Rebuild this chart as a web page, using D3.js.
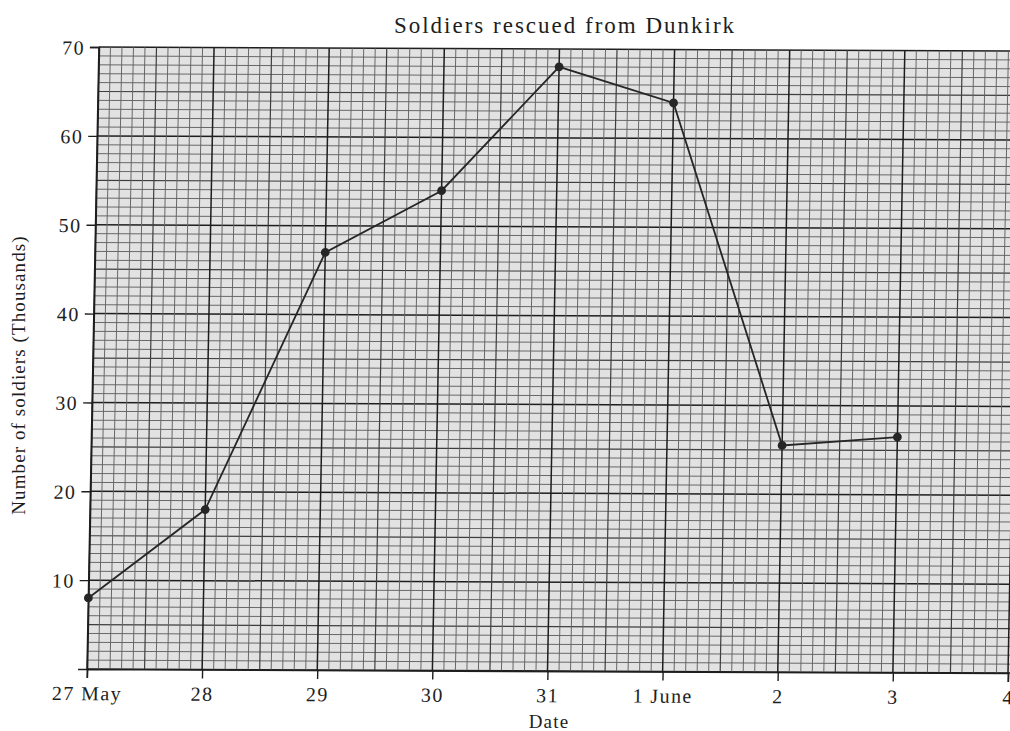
<!DOCTYPE html>
<html lang="en">
<head>
<meta charset="UTF-8">
<title>Soldiers rescued from Dunkirk</title>
<script src="https://d3js.org/d3.v7.min.js"></script>
<style>
  body { margin: 0; background: #fff; }
  text { font-family: "Liberation Serif", "Times New Roman", serif; fill: #1e1e1e; }
</style>
</head>
<body>
<svg id="chart" width="1010" height="731"></svg>
<script>
// data
const dates = ["27 May", "28", "29", "30", "31", "1 June", "2", "3", "4"];
const soldiers = [8, 18, 47, 54, 68, 64, 25.5, 26.5]; // thousands
const yTicks = [10, 20, 30, 40, 50, 60, 70];

const width = 1010, height = 731;
const margin = {top: 47, right: 2, bottom: 62, left: 87};

const svg = d3.select("#chart");

const x = d3.scaleLinear()
    .domain([0, dates.length - 1])
    .range([margin.left, width - margin.right]);

const y = d3.scaleLinear()
    .domain([0, 70])
    .range([height - margin.bottom, margin.top]);

const x0 = x(0), y0 = y(0);
const xMax = 8.4; // paper runs off the right edge

// the scan is slightly skewed, so the whole sheet is too
const sheet = svg.append("g")
    .attr("transform", `translate(${x0},${y0}) skewY(0.25) skewX(-1.1) translate(${-x0},${-y0})`);

// paper
sheet.append("rect")
    .attr("x", x0).attr("y", y(70))
    .attr("width", x(xMax) - x0).attr("height", y0 - y(70))
    .attr("fill", "#e2e2e2");

// minor / medium / major grid
const vLines = d3.range(0, Math.round(xMax * 10) + 1).map(i => i / 10);
const hLines = d3.range(0, 71);

function weight(i, n) {
    if (i % n === 0) return {c: "#1e1e1e", w: 1.5};
    if (i % (n / 2) === 0) return {c: "#3e3e3e", w: 1.2};
    return {c: "#626262", w: 0.95};
}

sheet.append("g").selectAll("line")
    .data(hLines)
    .join("line")
    .attr("x1", x0).attr("x2", x(xMax))
    .attr("y1", d => y(d)).attr("y2", d => y(d))
    .attr("stroke", d => weight(d, 10).c)
    .attr("stroke-width", d => weight(d, 10).w);

sheet.append("g").selectAll("line")
    .data(vLines)
    .join("line")
    .attr("x1", d => x(d)).attr("x2", d => x(d))
    .attr("y1", y(70)).attr("y2", y0)
    .attr("stroke", (d, i) => weight(i, 10).c)
    .attr("stroke-width", (d, i) => weight(i, 10).w);

// axes
const xAxis = d3.axisBottom(x)
    .tickValues(d3.range(dates.length))
    .tickFormat(i => dates[i])
    .tickSize(9)
    .tickPadding(8);

const yAxis = d3.axisLeft(y)
    .tickValues(yTicks)
    .tickSize(9)
    .tickPadding(5);

const gx = sheet.append("g")
    .attr("transform", `translate(0,${y0})`)
    .call(xAxis);

const gy = sheet.append("g")
    .attr("transform", `translate(${x0},0)`)
    .call(yAxis);

[gx, gy].forEach(g => {
    g.select(".domain").attr("stroke", "#1e1e1e").attr("stroke-width", 1.6);
    g.selectAll(".tick line").attr("stroke", "#1e1e1e").attr("stroke-width", 1.4);
    g.selectAll(".tick text")
        .attr("font-family", "Liberation Serif, serif")
        .attr("font-size", 20)
        .attr("letter-spacing", 1.4)
        .attr("fill", "#1e1e1e");
});
gy.selectAll(".tick text").attr("dy", "0.35em");

// the plotted line
const line = d3.line()
    .x((d, i) => x(i))
    .y(d => y(d));

sheet.append("path")
    .datum(soldiers)
    .attr("fill", "none")
    .attr("stroke", "#262626")
    .attr("stroke-width", 1.8)
    .attr("d", line);

sheet.append("g").selectAll("circle")
    .data(soldiers)
    .join("circle")
    .attr("cx", (d, i) => x(i))
    .attr("cy", d => y(d))
    .attr("r", 4.4)
    .attr("fill", "#262626");

// titles
svg.append("text")
    .attr("x", 565).attr("y", 33)
    .attr("text-anchor", "middle")
    .attr("font-size", 23)
    .attr("letter-spacing", 2)
    .text("Soldiers rescued from Dunkirk");

svg.append("text")
    .attr("x", 549).attr("y", 728)
    .attr("text-anchor", "middle")
    .attr("font-size", 19)
    .attr("letter-spacing", 1.2)
    .text("Date");

svg.append("text")
    .attr("transform", "translate(25,375) rotate(-90)")
    .attr("text-anchor", "middle")
    .attr("font-size", 19)
    .attr("letter-spacing", 1.1)
    .text("Number of soldiers (Thousands)");
</script>
</body>
</html>
